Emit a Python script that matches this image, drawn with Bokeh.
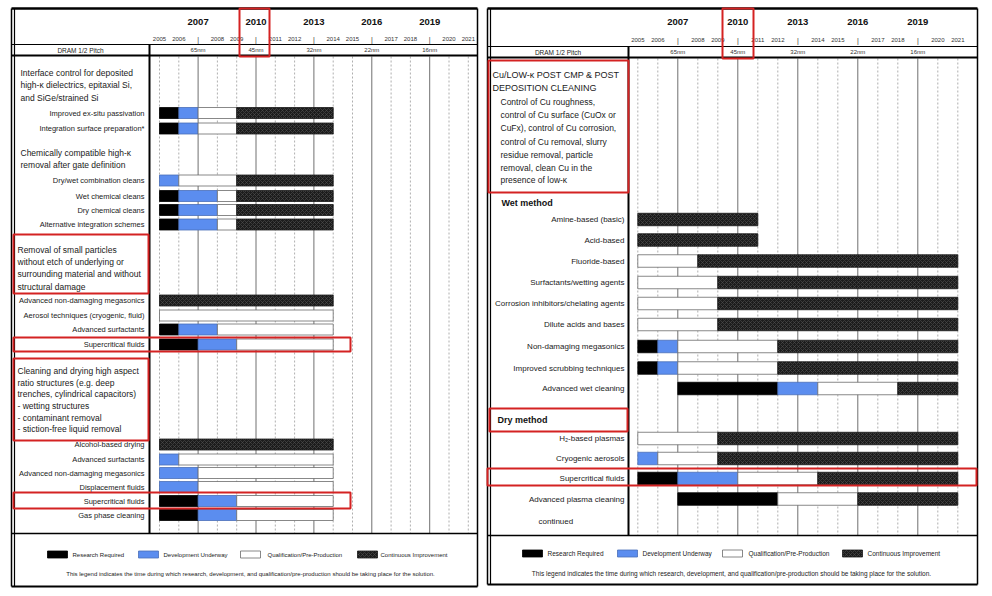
from bokeh.plotting import figure
from bokeh.models import Range1d, ColumnDataSource
from bokeh.embed import file_html
from bokeh.resources import INLINE
from bokeh.core.properties import value

# ---------------- data ----------------
YEARS = list(range(2005, 2022))
MAJOR_YEARS = [2007, 2010, 2013, 2016, 2019]
HALF_PITCH = ["65nm", "45nm", "32nm", "22nm", "16nm"]
PHASE_NAMES = ["Research Required", "Development Underway",
               "Qualification/Pre-Production", "Continuous Improvement"]
PHASE_CODES = ["R", "D", "Q", "C"]
LEGEND_NOTE = ("This legend indicates the time during which research, development, "
               "and qualification/pre-production should be taking place for the solution.")

L_LABELS = ["Improved ex-situ passivation", "Integration surface preparation*",
            "Dry/wet combination cleans", "Wet chemical cleans", "Dry chemical cleans",
            "Alternative integration schemes", "Advanced non-damaging megasonics",
            "Aerosol techniques (cryogenic, fluid)", "Advanced surfactants",
            "Supercritical fluids", "Alcohol-based drying", "Advanced surfactants",
            "Advanced non-damaging megasonics", "Displacement fluids",
            "Supercritical fluids", "Gas phase cleaning"]
L_SEGMENTS = [
    [("R", 2005, 2006), ("D", 2006, 2007), ("Q", 2007, 2009), ("C", 2009, 2014)],
    [("R", 2005, 2006), ("D", 2006, 2007), ("Q", 2007, 2009), ("C", 2009, 2014)],
    [("D", 2005, 2006), ("Q", 2006, 2009), ("C", 2009, 2014)],
    [("R", 2005, 2006), ("D", 2006, 2008), ("Q", 2008, 2009), ("C", 2009, 2014)],
    [("R", 2005, 2006), ("D", 2006, 2008), ("Q", 2008, 2009), ("C", 2009, 2014)],
    [("R", 2005, 2006), ("D", 2006, 2008), ("Q", 2008, 2009), ("C", 2009, 2014)],
    [("C", 2005, 2014)],
    [("Q", 2005, 2014)],
    [("R", 2005, 2006), ("D", 2006, 2008), ("Q", 2008, 2014)],
    [("R", 2005, 2007), ("D", 2007, 2009), ("Q", 2009, 2014)],
    [("C", 2005, 2014)],
    [("D", 2005, 2006), ("Q", 2006, 2014)],
    [("D", 2005, 2007), ("Q", 2007, 2014)],
    [("D", 2005, 2007), ("Q", 2007, 2014)],
    [("R", 2005, 2007), ("D", 2007, 2009), ("Q", 2009, 2014)],
    [("R", 2005, 2007), ("D", 2007, 2009), ("Q", 2009, 2014)],
]
L_HEAD1 = ["Interface control for deposited", "high-\u03ba dielectrics, epitaxial Si,",
           "and SiGe/strained Si"]
L_HEAD2 = ["Chemically compatible high-\u03ba", "removal after gate definition"]
L_HEAD3 = ["Removal of small particles", "without etch of underlying or",
           "surrounding material and without", "structural damage"]
L_HEAD4 = ["Cleaning and drying high aspect", "ratio structures (e.g. deep",
           "trenches, cylindrical capacitors)", "-  wetting structures",
           "-  contaminant removal", "-  stiction-free liquid removal"]

R_LABELS = ["Amine-based (basic)", "Acid-based", "Fluoride-based",
            "Surfactants/wetting agents", "Corrosion inhibitors/chelating agents",
            "Dilute acids and bases", "Non-damaging megasonics",
            "Improved scrubbing techniques", "Advanced wet cleaning",
            "H\u2082-based plasmas", "Cryogenic aerosols", "Supercritical fluids",
            "Advanced plasma cleaning"]
R_SEGMENTS = [
    [("C", 2005, 2011)],
    [("C", 2005, 2011)],
    [("Q", 2005, 2008), ("C", 2008, 2021)],
    [("Q", 2005, 2009), ("C", 2009, 2021)],
    [("Q", 2005, 2009), ("C", 2009, 2021)],
    [("Q", 2005, 2009), ("C", 2009, 2021)],
    [("R", 2005, 2006), ("D", 2006, 2007), ("Q", 2007, 2012), ("C", 2012, 2021)],
    [("R", 2005, 2006), ("D", 2006, 2007), ("Q", 2007, 2012), ("C", 2012, 2021)],
    [("R", 2007, 2012), ("D", 2012, 2014), ("Q", 2014, 2018), ("C", 2018, 2021)],
    [("Q", 2005, 2009), ("C", 2009, 2021)],
    [("D", 2005, 2006), ("Q", 2006, 2009), ("C", 2009, 2021)],
    [("R", 2005, 2007), ("D", 2007, 2010), ("Q", 2010, 2014), ("C", 2014, 2021)],
    [("R", 2007, 2012), ("Q", 2012, 2016), ("C", 2016, 2021)],
]
R_HEAD_TITLE = ["Cu/LOW-\u03ba POST CMP & POST", "DEPOSITION CLEANING"]
R_HEAD_BODY = ["Control of Cu roughness,", "control of Cu surface (CuOx or",
               "CuFx), control of Cu corrosion,", "control of Cu removal, slurry",
               "residue removal, particle", "removal, clean Cu in the",
               "presence of low-\u03ba"]

# ---------------- layout (image pixel coordinates) ----------------
W, H = 990, 594
OX, OY = 0, 0
FONT = "Liberation Sans"
RED = "#d42222"
STYLE = {
    "R": dict(fill_color="#000000", line_color="#000000"),
    "D": dict(fill_color="#5b8def", line_color="#4a6fb8"),
    "Q": dict(fill_color="#ffffff", line_color="#6a6a6a"),
    "C": dict(fill_color="#1c1c1c", line_color="#1c1c1c", hatch_pattern="diagonal_cross",
              hatch_color="#505050", hatch_scale=4, hatch_weight=0.6),
}

L_ROW_Y = [112.5, 128, 180, 195.5, 209.5, 224, 300, 315, 329, 344,
           444, 459, 472.5, 486.5, 500.5, 514.5]
R_ROW_Y = [219, 239.5, 260.5, 282, 303, 324, 346, 367.5, 388, 438, 458, 478, 498.5]

def fx(x):
    return x - OX

def fy(y):
    return y - OY

# year scale for each panel: image x of 2005 and pixels per year
L_X0, L_PX = 159.0, 19.3
R_X0, R_PX = 637.3, 20.0
l_start = 2005 - fx(L_X0) / L_PX
r_start = 2005 - fx(R_X0) / R_PX

p = figure(width=W, height=H, output_backend="svg", toolbar_location=None,
           x_range=Range1d(0, W), y_range=Range1d(H, 0),
           min_border=0, outline_line_color=None, background_fill_color="white")
p.extra_x_ranges = {"yrL": Range1d(l_start, l_start + W / L_PX),
                    "yrR": Range1d(r_start, r_start + W / R_PX)}
p.xaxis.visible = False
p.yaxis.visible = False
p.grid.visible = False


def txt(xs, ys, texts, size, align="left", bold=False, rng="default", color="#1a1a1a",
        baseline="middle"):
    p.text(x=xs, y=ys, text=texts, text_font=value(FONT),
           text_font_size=value(f"{size}px"), text_align=align,
           text_baseline=baseline, text_font_style="bold" if bold else "normal",
           text_color=color, x_range_name=rng)


def hline(x0, x1, y, w=1.0, color="#000000"):
    p.segment(x0=[fx(x0)], x1=[fx(x1)], y0=[fy(y)], y1=[fy(y)], line_color=color, line_width=w)


def vline(x, y0, y1, w=1.0, color="#000000"):
    p.segment(x0=[fx(x)], x1=[fx(x)], y0=[fy(y0)], y1=[fy(y1)], line_color=color, line_width=w)


def box(x0, x1, y0, y1, color=RED, w=2):
    p.quad(left=[fx(x0)], right=[fx(x1)], top=[fy(y0)], bottom=[fy(y1)],
           fill_color=None, line_color=color, line_width=w)


def panel(cfg):
    rng = cfg["rng"]
    # year grid
    minor = [y for y in YEARS if y not in MAJOR_YEARS]
    p.segment(x0=minor, x1=minor, y0=[fy(cfg["body_top"])] * len(minor),
              y1=[fy(cfg["body_bot"])] * len(minor), line_color="#9a9a9a",
              line_width=0.8, line_dash="2 2", x_range_name=rng)
    p.segment(x0=MAJOR_YEARS, x1=MAJOR_YEARS, y0=[fy(cfg["body_top"])] * 5,
              y1=[fy(cfg["body_bot"])] * 5, line_color="#707070", line_width=1,
              x_range_name=rng)
    # bars
    for code in PHASE_CODES:
        lefts, rights, ys = [], [], []
        for segs, yc in zip(cfg["segments"], cfg["rows"]):
            for c, a, b in segs:
                if c == code:
                    lefts.append(a)
                    rights.append(b)
                    ys.append(fy(yc))
        if lefts:
            src = ColumnDataSource(dict(left=lefts, right=rights, y=ys))
            p.hbar(y="y", left="left", right="right", height=cfg["bar_h"], source=src,
                   line_width=0.8, x_range_name=rng, **STYLE[code])
    # item labels
    txt([fx(cfg["label_x"])] * len(cfg["labels"]), [fy(v) for v in cfg["rows"]],
        cfg["labels"], cfg["label_size"], align="right")
    # header: big years, small years, pitch
    txt(MAJOR_YEARS, [fy(cfg["big_y"])] * 5, [str(y) for y in MAJOR_YEARS], 9.5,
        align="center", bold=True, rng=rng, color="#111111")
    small = [y for y in YEARS if y not in MAJOR_YEARS]
    txt(small, [fy(cfg["small_y"])] * len(small), [str(y) for y in small], 6,
        align="center", rng=rng, color="#333333")
    txt(MAJOR_YEARS, [fy(cfg["small_y"])] * 5, ["|"] * 5, 7, align="center", rng=rng,
        color="#333333")
    txt(MAJOR_YEARS, [fy(cfg["pitch_y"])] * 5, HALF_PITCH, 6, align="center", rng=rng,
        color="#333333")
    txt([fx((cfg["x0"] + cfg["div_x"]) / 2)], [fy(cfg["pitch_y"])], ["DRAM 1/2 Pitch"], 6.5,
        align="center", color="#222222")
    # frame lines
    x0, x1 = cfg["x0"], cfg["x1"]
    hline(x0, x1, cfg["top"], 2.5)
    hline(x0, x1, cfg["line1"], 1)
    hline(x0, x1, cfg["line2"], 2)
    hline(x0, x1, cfg["body_bot"], 1.5)
    hline(x0, x1, cfg["bottom"], 2)
    vline(x0, cfg["top"], cfg["bottom"], 1.5)
    vline(x0 + 3, cfg["top"], cfg["bottom"], 1.2)
    vline(x1, cfg["top"], cfg["bottom"], 1.5)
    vline(cfg["div_x"], cfg["line1"], cfg["body_bot"], 2)
    # legend
    ly = fy(cfg["leg_y"])
    for code, name, bx, tx in zip(PHASE_CODES, PHASE_NAMES, cfg["leg_box_x"], cfg["leg_txt_x"]):
        p.quad(left=[fx(bx)], right=[fx(bx + 20)], top=[ly - 3.5], bottom=[ly + 3.5],
               line_width=0.8, **STYLE[code])
        txt([fx(tx)], [ly], [name], cfg["leg_size"], color="#222222")
    txt([fx(cfg["note_x"])], [fy(cfg["note_y"])], [LEGEND_NOTE], cfg["leg_size"],
        align="center", color="#222222")


left_cfg = dict(rng="yrL", x0=11, x1=477, div_x=149, top=8, line1=44, line2=55,
                body_top=56, body_bot=533, bottom=586, big_y=21, small_y=38.5,
                pitch_y=49.5, rows=L_ROW_Y, segments=L_SEGMENTS, labels=L_LABELS,
                label_x=144, label_size=7.5, bar_h=11,
                leg_y=554, leg_box_x=[47, 138, 240, 357], leg_txt_x=[72, 163, 267, 380],
                leg_size=6, note_x=250, note_y=573)
right_cfg = dict(rng="yrR", x0=487, x1=977, div_x=628, top=8, line1=46, line2=57,
                 body_top=58, body_bot=535, bottom=584, big_y=21, small_y=39.5,
                 pitch_y=51.5, rows=R_ROW_Y, segments=R_SEGMENTS, labels=R_LABELS,
                 label_x=624, label_size=8, bar_h=12.5,
                 leg_y=553, leg_box_x=[522, 617, 722, 842], leg_txt_x=[547, 642, 748, 867],
                 leg_size=6.5, note_x=731, note_y=573)
panel(left_cfg)
panel(right_cfg)

# ---- left panel group headers ----
txt([fx(20)] * 3, [fy(v) for v in [72, 84.5, 97]], L_HEAD1, 8.5)
txt([fx(20)] * 2, [fy(v) for v in [152, 164.5]], L_HEAD2, 8.5)
txt([fx(17)] * 4, [fy(v) for v in [249, 261, 273.5, 286]], L_HEAD3, 8.5)
txt([fx(17)] * 6, [fy(v) for v in [370, 382, 393.5, 405.5, 417, 428.5]], L_HEAD4, 8.5)

# ---- right panel group headers ----
txt([fx(492)] * 2, [fy(74), fy(87)], R_HEAD_TITLE, 9)
txt([fx(500)] * 7, [fy(v) for v in [101, 114.5, 127.5, 141, 154, 167, 179.5]],
    R_HEAD_BODY, 8.5)
txt([fx(501)], [fy(202)], ["Wet method"], 9, bold=True, color="#111111")
txt([fx(497)], [fy(419.5)], ["Dry method"], 9, bold=True, color="#111111")
txt([fx(538)], [fy(521)], ["continued"], 8)

# ---- red highlight boxes ----
box(239, 269, 8, 56)
box(13, 148, 234, 293)
box(13, 350, 337, 351)
box(13, 148, 358, 440)
box(13, 350, 492, 508)
box(722, 753, 8, 58)
box(488, 628, 60, 192)
box(489, 627, 408, 431)
box(487, 976, 468, 485)

open("out.html", "w").write(file_html(p, INLINE))
